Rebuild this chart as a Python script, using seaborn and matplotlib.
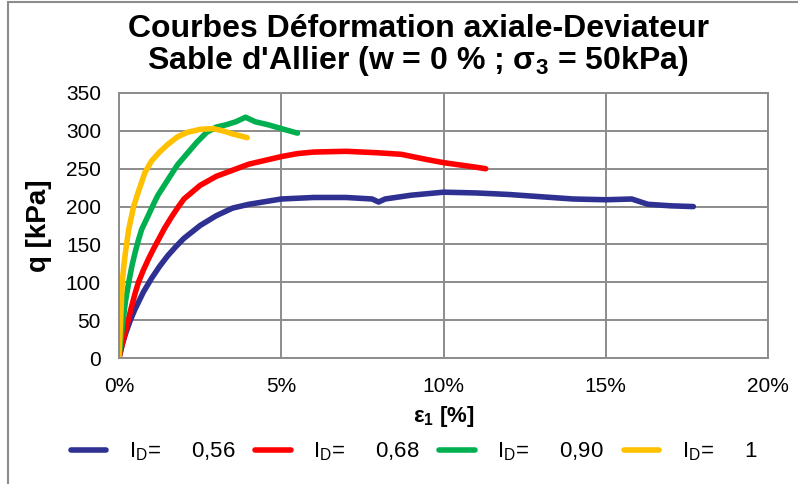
import pandas as pd
import matplotlib.pyplot as plt
import seaborn as sns
from matplotlib.ticker import FuncFormatter, MultipleLocator

# axial strain eps1 [%] and deviator q [kPa]
eps_056 = [0, 0.1, 0.2, 0.35, 0.5, 0.75, 1.0, 1.25, 1.5, 1.75, 2.0, 2.5, 3.0, 3.5, 4.0,
           5.0, 6.0, 7.0, 7.8, 8.0, 8.2, 9.0, 10.0, 11.0, 12.0, 13.0, 14.0, 15.0,
           15.8, 16.3, 17.0, 17.7]
q_056 = [0, 18, 32, 50, 65, 87, 105, 121, 135, 147, 158, 175, 188, 198, 203,
         210, 212, 212, 210, 206, 210, 215, 219, 218, 216, 213, 210, 209,
         210, 203, 201, 200]

eps_068 = [0, 0.1, 0.2, 0.3, 0.4, 0.5, 0.6, 0.75, 0.9, 1.05, 1.2, 1.4, 1.6, 1.8, 2.0,
           2.5, 3.0, 3.5, 4.0, 4.5, 5.0, 5.5, 6.0, 7.0, 8.0, 8.7, 9.5, 10.0, 10.5,
           11.0, 11.3]
q_068 = [0, 18, 35, 53, 70, 86, 100, 116, 130, 143, 155, 171, 185, 198, 210,
         228, 240, 248, 256, 261, 266, 270, 272, 273, 271, 269, 262, 258, 255,
         252, 250]

eps_090 = [0, 0.05, 0.1, 0.15, 0.2, 0.3, 0.4, 0.5, 0.6, 0.7, 0.9, 1.05, 1.2, 1.5, 1.8,
           2.1, 2.4, 2.7, 3.0, 3.3, 3.6, 3.9, 4.2, 4.6, 5.0, 5.5]
q_090 = [0, 20, 40, 58, 75, 100, 122, 140, 156, 170, 188, 202, 215, 235, 255,
         270, 285, 298, 305, 308, 312, 318, 312, 308, 303, 297]

eps_100 = [0, 0.03, 0.05, 0.08, 0.1, 0.15, 0.2, 0.3, 0.45, 0.6, 0.8, 1.0, 1.25, 1.5,
           1.8, 2.1, 2.5, 2.9, 3.2, 3.5, 3.95]
q_100 = [0, 30, 50, 80, 100, 122, 140, 170, 200, 220, 245, 260, 272, 282,
         292, 298, 302, 303, 300, 296, 291]

labels = ['$\\mathregular{I_D}$=     0,56', '$\\mathregular{I_D}$=     0,68',
          '$\\mathregular{I_D}$=     0,90', '$\\mathregular{I_D}$=     1']
colors = ['#2E3192', '#FF0000', '#00B050', '#FFC000']

frames = []
for lab, e, q in zip(labels, [eps_056, eps_068, eps_090, eps_100],
                     [q_056, q_068, q_090, q_100]):
    frames.append(pd.DataFrame({'eps': e, 'q': q, 'ID': lab}))
data = pd.concat(frames, ignore_index=True)

sns.set_style('white')
plt.rcParams['font.family'] = ['Liberation Sans', 'DejaVu Sans']
plt.rcParams['mathtext.fontset'] = 'custom'
plt.rcParams['mathtext.rm'] = 'Liberation Sans'
plt.rcParams['mathtext.bf'] = 'Liberation Sans:bold'
for key in ['text.color', 'axes.labelcolor', 'xtick.labelcolor', 'ytick.labelcolor']:
    plt.rcParams[key] = 'black'

fig = plt.figure(figsize=(7.98, 4.84), dpi=100)
ax = fig.add_axes([119 / 798, 1 - 358 / 484, (768 - 119) / 798, (358 - 93) / 484])

sns.lineplot(data=data, x='eps', y='q', hue='ID', palette=colors, sort=False,
             estimator=None, linewidth=4.0, ax=ax, legend=True)

ax.set_xlim(0, 20)
ax.set_ylim(0, 350)
ax.xaxis.set_major_locator(MultipleLocator(5))
ax.yaxis.set_major_locator(MultipleLocator(50))
ax.xaxis.set_major_formatter(FuncFormatter(lambda v, p: f'{v:.0f}%'))
ax.grid(True, color='#8c8c8c', linewidth=1.4)
ax.set_axisbelow(True)
for side in ['top', 'right', 'bottom', 'left']:
    ax.spines[side].set_color('#8c8c8c')
    ax.spines[side].set_linewidth(1.4)
ax.tick_params(axis='both', length=5, width=1.4, color='#8c8c8c', labelsize=15,
               pad=8, labelcolor='black')
ax.tick_params(axis='x', pad=9)

ax.set_xlabel('ε$_\\mathbf{1}$ [%]', fontsize=16, fontweight='bold')
ax.xaxis.set_label_coords(0.5, -(404 - 358) / 265)
ax.set_ylabel('q [kPa]', fontsize=20, fontweight='bold')
ax.yaxis.set_label_coords(-(119 - 52) / 649, 0.5)

fig.text(418 / 798, 1 - 37 / 484, 'Courbes Déformation axiale-Deviateur', ha='center',
         va='baseline', fontsize=23, fontweight='bold')
fig.text(418 / 798, 1 - 69 / 484, "Sable d'Allier (w = 0 % ; σ$_\\mathbf{3}$ = 50kPa)",
         ha='center', va='baseline', fontsize=23, fontweight='bold')

handles, labs = ax.get_legend_handles_labels()
ax.legend(handles, labs, loc='center', bbox_to_anchor=(414 / 798, 1 - 452 / 484),
          bbox_transform=fig.transFigure, ncol=4, frameon=False, fontsize=16,
          handlelength=1.6, columnspacing=0.9, handletextpad=1.0)

# chart frame (Excel style)
fig.patches.append(plt.Rectangle((8 / 798, -0.1), 1.2, 1.1 - 2 / 484,
                                 transform=fig.transFigure, fill=False,
                                 edgecolor='#8c8c8c', linewidth=1.5))

fig.savefig('out.png', dpi=100)
